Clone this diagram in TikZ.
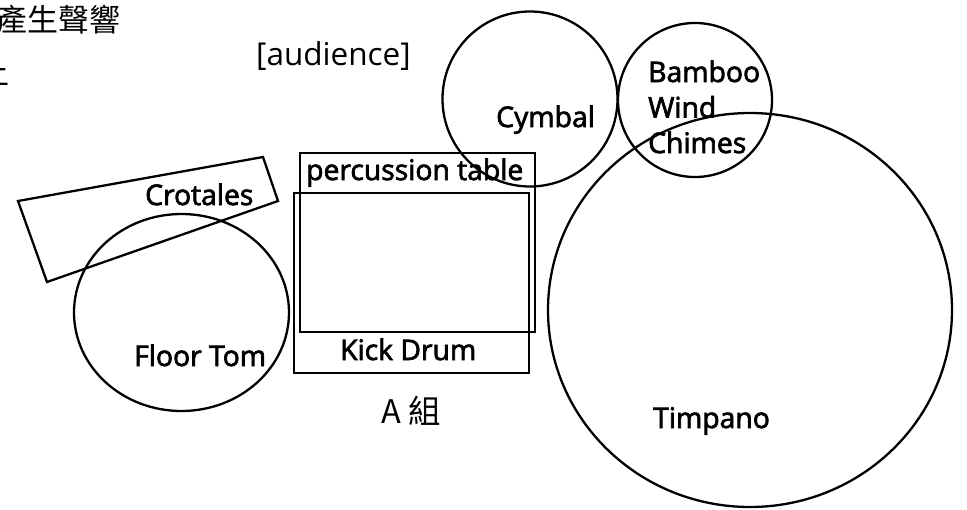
\documentclass[tikz,border=0pt]{standalone}
\usepackage{fontspec}
\setmainfont{Open Sans}
\newfontfamily\cjk{Noto Sans CJK TC}
\newcommand\semib[1]{\special{pdf:literal direct 2 Tr 0.7 w}#1\special{pdf:literal direct 0 Tr}}
\begin{document}
\begin{tikzpicture}[x=1pt,y=-1pt,
  shape line/.style={draw=black,line width=2.3pt},
  lbl/.style={inner sep=0pt,anchor=base west,font=\fontsize{28.3}{35.5}\selectfont,align=left},
  plain/.style={inner sep=0pt,anchor=base west,font=\fontsize{31.5}{36}\selectfont},
  cjklbl/.style={inner sep=0pt,font=\fontsize{31}{36}\selectfont\cjk}]
\clip (0,0) rectangle (967,509);
\fill[white] (0,0) rectangle (967,509);
% shapes
\draw[shape line] (750,310) ellipse [x radius=202pt, y radius=197pt];
\draw[shape line] (530,99) circle [radius=87.5pt];
\draw[shape line] (695,100) circle [radius=77pt];
\draw[shape line] (181.5,312.5) ellipse [x radius=107.5pt, y radius=98.5pt];
\draw[shape line] (18,201) -- (263,157) -- (278,201) -- (47,282) -- cycle;
\draw[shape line] (300,153) rectangle (535,332);
\draw[shape line] (294,193) rectangle (529,373);
% labels
\node[lbl] (cymbal) at (496,127) {\semib{Cymbal}};
\node[lbl] (bamboo) at (648,153) {\semib{Bamboo}\\\semib{Wind}\\\semib{Chimes}};
\node[lbl] (crotales) at (145,205) {\semib{Crotales}};
\node[lbl] (floortom) at (134,366) {\semib{Floor Tom}};
\node[lbl] (table) at (306,180) {\semib{percussion table}};
\node[lbl] (kick) at (340,360) {\semib{Kick Drum}};
\node[lbl] (timpano) at (653,428) {\semib{Timpano}};
\node[plain] (audience) at (256,65) {[audience]};
\node[inner sep=0pt,anchor=base west,font=\fontsize{32.5}{36}\selectfont\cjk] (groupA) at (381,423) {A 組};
\node[cjklbl,anchor=base east] (title) at (121,31) {產生聲響};
\node[cjklbl,anchor=base east] (title2) at (10,84) {上};
\end{tikzpicture}
\end{document}
